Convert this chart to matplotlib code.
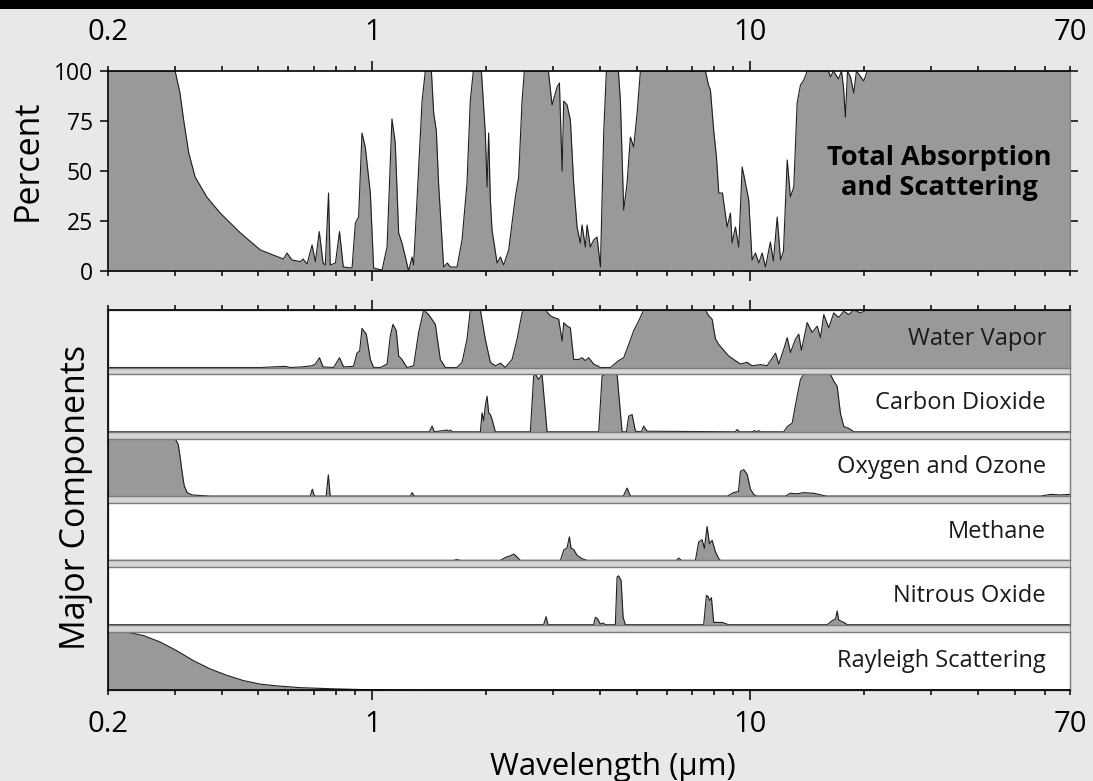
import matplotlib
matplotlib.use('Agg')
import matplotlib.pyplot as plt
from matplotlib.ticker import FixedLocator, FuncFormatter
from matplotlib.patches import Rectangle

plt.rcParams['font.family'] = ['Open Sans', 'DejaVu Sans']

# total absorption and scattering (wavelength in um, percent)
total_wl = [0.2, 0.301, 0.310, 0.317, 0.327, 0.340, 0.365, 0.396, 0.448, 0.506,
            0.582, 0.595, 0.613, 0.645, 0.656, 0.672, 0.693, 0.707, 0.724, 0.741,
            0.751, 0.766, 0.774, 0.799, 0.819, 0.838, 0.884, 0.902, 0.920, 0.939,
            0.958, 0.988, 1.008, 1.061, 1.094, 1.127, 1.150, 1.174, 1.198, 1.223,
            1.247, 1.274, 1.286, 1.313, 1.354, 1.381, 1.433, 1.453, 1.477, 1.497,
            1.544, 1.579, 1.608, 1.675, 1.727, 1.780, 1.816, 1.850, 1.943, 1.966,
            1.990, 2.011, 2.031, 2.052, 2.073, 2.138, 2.181, 2.225, 2.294, 2.389,
            2.438, 2.489, 2.524, 2.922, 2.988, 3.081, 3.125, 3.177, 3.208, 3.274,
            3.340, 3.408, 3.479, 3.549, 3.586, 3.660, 3.698, 3.773, 3.850, 3.930,
            4.011, 4.092, 4.159, 4.475, 4.530, 4.622, 4.718, 4.814, 4.912, 5.015,
            5.117, 7.603, 7.743, 7.838, 7.997, 8.131, 8.245, 8.433, 8.677, 8.853,
            8.945, 9.126, 9.314, 9.507, 9.700, 9.897, 10.10, 10.31, 10.52, 10.74,
            10.96, 11.29, 11.50, 11.77, 12.01, 12.23, 12.51, 12.76, 13.02, 13.29,
            13.56, 13.84, 14.13, 16.08, 16.28, 16.58, 17.09, 17.41, 17.62, 17.83,
            18.06, 18.39, 18.76, 19.07, 19.94, 20.36, 70]
total_pct = [100, 100, 89, 75.5, 59, 47, 37, 29, 19, 10.5,
             6, 9, 5.5, 4.7, 6, 3.5, 13, 4.7, 19.7, 4,
             3, 39, 3, 4, 19.7, 2, 1.5, 24, 27, 69,
             62, 39, 1.5, 0.5, 12, 76, 64, 19, 14, 7,
             0, 7, 3, 35.5, 85, 100, 100, 79, 70, 44,
             2, 4, 2, 2, 15.5, 44, 85, 100, 100, 85,
             69, 42, 69, 35.5, 20.5, 4, 7, 3, 10.5, 37,
             47, 85, 100, 100, 83, 92, 94, 50, 85, 83,
             75.5, 44, 22, 14, 23, 12, 23, 12, 15.5, 17,
             2, 69, 100, 100, 85, 30.5, 44, 67, 62, 79,
             100, 100, 93, 90.5, 70, 57, 39, 39, 22, 29,
             14, 22, 12, 52, 44, 35.5, 5.5, 9, 4, 9,
             2, 14.5, 5, 27, 5.5, 10, 55.5, 37, 42, 84,
             93, 95.5, 100, 100, 97, 100, 96, 100, 92, 77,
             100, 97, 89, 100, 95, 100, 100]

water_wl = [0.2, 0.506, 0.589, 0.607, 0.652, 0.693, 0.707, 0.725, 0.741, 0.790,
            0.819, 0.840, 0.892, 0.911, 0.926, 0.939, 0.964, 0.988, 1.008, 1.050,
            1.094, 1.116, 1.134, 1.157, 1.174, 1.198, 1.235, 1.286, 1.326, 1.367,
            1.409, 1.468, 1.513, 1.560, 1.675, 1.727, 1.780, 1.816, 1.931, 1.990,
            2.052, 2.115, 2.181, 2.248, 2.342, 2.414, 2.489, 2.513, 2.869, 2.957,
            3.017, 3.111, 3.177, 3.208, 3.274, 3.340, 3.408, 3.513, 3.586, 3.660,
            3.734, 3.850, 4.011, 4.263, 4.483, 4.622, 4.765, 4.912, 5.064, 5.220,
            7.603, 7.757, 7.919, 8.080, 8.245, 8.500, 8.762, 9.032, 9.409, 9.802,
            10.10, 10.63, 11.07, 11.65, 11.88, 12.25, 12.51, 12.76, 13.15, 13.42,
            13.64, 14.13, 14.56, 15.02, 15.32, 15.63, 16.11, 16.61, 17.12, 17.66,
            18.20, 18.76, 19.54, 20.36, 70]
water_pct = [0, 0, 2, 0, 1, 3, 6, 17, 1, 0,
             17, 1, 2, 25, 29, 68, 58, 14, 0, 0,
             6, 55, 75, 64, 20, 14, 0, 3, 61, 100,
             92, 75, 14, 0, 0, 9, 49, 100, 100, 49,
             9, 3, 7.5, 0, 14, 49, 95, 100, 100, 90,
             87, 84, 46, 78, 72, 69, 14, 14, 17, 12,
             17, 6, 0, 0, 12, 17, 40, 64, 81, 100,
             100, 90, 84, 50, 40, 30, 20, 14, 6, 9,
             3, 5, 3, 25, 6, 32, 52, 26, 49, 58,
             30, 78, 61, 72, 52, 92, 69, 95, 87, 98,
             92, 100, 95, 100, 100]

co2_wl = [0.2, 1.415, 1.439, 1.459, 1.576, 1.592, 1.608, 1.628, 1.931, 1.951,
          1.970, 1.990, 2.011, 2.031, 2.052, 2.073, 2.115, 2.618, 2.671, 2.699,
          2.754, 2.811, 2.899, 3.969, 4.052, 4.135, 4.439, 4.577, 4.699, 4.765,
          4.864, 4.964, 5.148, 5.220, 5.331, 9.126, 9.222, 9.352, 10.12, 10.25,
          10.37, 10.52, 10.63, 12.25, 12.51, 12.89, 13.29, 13.56, 13.84, 16.28,
          16.61, 16.96, 17.30, 17.66, 18.20, 18.76, 70]
co2_pct = [0, 0, 10, 0, 3, 1, 3, 0, 0, 33,
           19, 45, 62, 33, 30, 22, 0, 0, 97, 100,
           91, 100, 0, 0, 97, 100, 100, 0, 0, 27,
           30, 1, 0, 10, 1, 0, 4, 0, 0, 2,
           0, 2, 0, 0, 9, 15, 62, 91, 100, 100,
           88, 79, 32, 9, 6, 0, 0]

ozone_wl = [0.2, 0.301, 0.3067, 0.310, 0.3143, 0.3181, 0.324, 0.3341, 0.3727, 0.685,
            0.694, 0.703, 0.755, 0.765, 0.774, 1.261, 1.274, 1.292, 4.613, 4.718,
            4.814, 8.694, 9.016, 9.296, 9.409, 9.600, 9.802, 10.0, 10.20, 10.37,
            12.38, 12.76, 13.31, 13.81, 14.68, 15.61, 15.89, 58.5, 62.2, 66.1,
            70]
ozone_pct = [100, 100, 90, 70, 40, 18, 6, 2, 0, 0,
             12, 0, 0, 37, 0, 0, 6, 0, 0, 14,
             0, 0, 6, 8, 43, 46, 38, 12, 3, 0,
             0, 5, 4, 6, 5, 1, 0, 0, 3, 2,
             3]

methane_wl = [0.2, 1.638, 1.675, 1.709, 2.181, 2.248, 2.317, 2.365, 2.414, 2.463,
              3.144, 3.208, 3.274, 3.320, 3.355, 3.408, 3.479, 3.586, 3.698, 6.372,
              6.461, 6.569, 7.153, 7.297, 7.450, 7.555, 7.680, 7.790, 7.919, 8.080,
              8.245, 8.329, 70]
methane_pct = [0, 0, 1.5, 0, 0, 5, 8, 11, 6, 0,
               0, 18, 22, 41, 21, 19, 9, 3, 0, 0,
               4, 0, 0, 32, 36, 21, 59, 29, 35, 15,
               3, 0, 0]

n2o_wl = [0.2, 2.839, 2.881, 2.916, 3.850, 3.890, 3.945, 4.011, 4.077, 4.135,
          4.393, 4.439, 4.483, 4.549, 4.605, 4.670, 7.522, 7.648, 7.728, 7.790,
          7.885, 7.997, 8.417, 8.587, 8.744, 15.96, 16.45, 16.79, 16.96, 17.12,
          17.66, 18.03, 70]
n2o_pct = [0, 0, 14, 0, 0, 13, 10, 1, 3, 0,
           0, 83, 85, 77, 13, 0, 0, 51, 49, 42,
           47, 4, 4, 2, 0, 0, 7, 10, 24, 8,
           4, 0, 0]

rayleigh_wl = [0.2, 0.2244, 0.2483, 0.2749, 0.3043, 0.3368, 0.3727, 0.4127, 0.4566, 0.506,
               0.5596, 0.645, 0.790, 0.968, 1.424, 70]
rayleigh_pct = [100, 99, 93, 82, 67, 50, 36, 25, 16, 10,
                7, 4, 2, 0.6, 0, 0]

components = [
    ('Water Vapor', water_wl, water_pct),
    ('Carbon Dioxide', co2_wl, co2_pct),
    ('Oxygen and Ozone', ozone_wl, ozone_pct),
    ('Methane', methane_wl, methane_pct),
    ('Nitrous Oxide', n2o_wl, n2o_pct),
    ('Rayleigh Scattering', rayleigh_wl, rayleigh_pct),
]

major_ticks = [1, 10]
minor_ticks = [0.2, 0.3, 0.4, 0.5, 0.6, 0.7, 0.8, 0.9,
               2, 3, 4, 5, 6, 7, 8, 9, 20, 30, 40, 50, 60, 70]
edge_labels = [0.2, 70]

FILL = '#999999'
EDGE = '#1e1e1e'
BG = '#e8e8e8'


def setup_xaxis(ax, top, pad_total):
    ax.set_xscale('log')
    ax.set_xlim(0.2, 70)
    ax.xaxis.set_major_locator(FixedLocator(major_ticks))
    ax.xaxis.set_minor_locator(FixedLocator(minor_ticks))
    ax.xaxis.set_major_formatter(FuncFormatter(lambda v, p: f'{v:g}'))
    ax.xaxis.set_minor_formatter(FuncFormatter(
        lambda v, p: f'{v:g}' if any(abs(v - e) < 1e-9 for e in edge_labels) else ''))
    common = dict(axis='x', direction='out', top=True, bottom=True,
                  labeltop=top, labelbottom=not top, labelsize=21, width=1.1)
    ax.tick_params(which='major', length=7, pad=pad_total - 7, **common)
    ax.tick_params(which='minor', length=3.3, pad=pad_total - 3.3, **common)


fig = plt.figure(figsize=(10.93, 7.81), dpi=100, facecolor=BG)
fig.patches.append(Rectangle((0, 1 - 9 / 781), 1, 9 / 781, transform=fig.transFigure,
                             facecolor='black', edgecolor='none'))

W, H = 1093, 781
left = 108 / W
width = (1070 - 108) / W

# upper panel: total absorption
ax = fig.add_axes([left, 1 - 271 / H, width, 200 / H])
ax.fill_between(total_wl, total_pct, 0, color=FILL, lw=0)
ax.plot(total_wl, total_pct, color=EDGE, lw=0.8)
ax.set_ylim(0, 100)
setup_xaxis(ax, top=True, pad_total=17)
ax.set_yticks([0, 25, 50, 75, 100])
ax.tick_params(axis='y', direction='out', left=True, right=True, length=6,
               width=1.1, pad=5, labelsize=16.5)
for s in ['top', 'bottom', 'left']:
    ax.spines[s].set_linewidth(1.2)
    ax.spines[s].set_color('black')
ax.spines['right'].set_color('#808080')
ax.text(0.864, 0.49, 'Total Absorption\nand Scattering', transform=ax.transAxes,
        ha='center', va='center', fontsize=19.5, fontweight='bold',
        multialignment='center', linespacing=1.2)
fig.text(28 / W, 1 - 160 / H, 'Percent', rotation=90, ha='center', va='center',
         fontsize=24.5)

# lower panels: individual components
grp_top = 1 - 310 / H
grp_bot = 1 - 690 / H
panel_h = 57.5 / H
gap = 6.8 / H

back = fig.add_axes([left, grp_bot, width, grp_top - grp_bot], zorder=0)
back.set_facecolor('#d4d4d4')
back.set_xticks([])
back.set_yticks([])
for s in back.spines.values():
    s.set_visible(False)

for i, (name, wl, pct) in enumerate(components):
    bottom = grp_top - (i + 1) * panel_h - i * gap
    if i == len(components) - 1:
        bottom = grp_bot
        h = grp_top - i * (panel_h + gap) - grp_bot
    else:
        h = panel_h
    pax = fig.add_axes([left, bottom, width, h], zorder=1)
    pax.set_facecolor('white')
    pax.fill_between(wl, pct, 0, color=FILL, lw=0)
    pax.plot(wl, pct, color=EDGE, lw=0.8)
    pax.set_xscale('log')
    pax.set_xlim(0.2, 70)
    pax.set_ylim(0, 100)
    pax.set_xticks([])
    pax.set_xticks([], minor=True)
    pax.set_yticks([])
    for s in pax.spines.values():
        s.set_color('#7a7a7a')
        s.set_linewidth(1.0)
    pax.text(0.975, 0.5, name, transform=pax.transAxes, ha='right', va='center',
             fontsize=17, color='#1a1a1a')

frame = fig.add_axes([left, grp_bot, width, grp_top - grp_bot], zorder=5)
frame.set_facecolor('none')
setup_xaxis(frame, top=False, pad_total=14.5)
frame.set_yticks([])
for s in ['top', 'bottom', 'left']:
    frame.spines[s].set_linewidth(1.2)
    frame.spines[s].set_color('black')
frame.spines['right'].set_color('#808080')

fig.text(613 / W, 1 - 767 / H, 'Wavelength (\u03bcm)', ha='center', va='center',
         fontsize=22.5)
fig.text(76 / W, 1 - 497 / H, 'Major Components', rotation=90, ha='center',
         va='center', fontsize=24.5)

fig.savefig('out.png', dpi=100, facecolor=BG)
